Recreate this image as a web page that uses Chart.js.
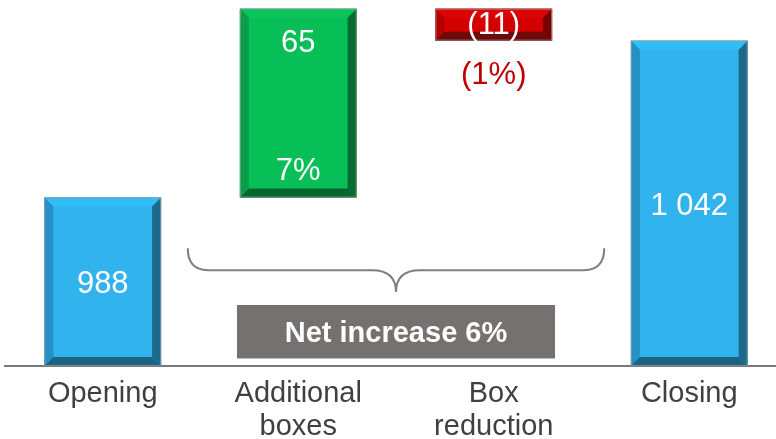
<!DOCTYPE html>
<html>
<head>
<meta charset="utf-8">
<script src="https://cdn.jsdelivr.net/npm/chart.js@4/dist/chart.umd.min.js"></script>
<style>
  html, body { margin: 0; padding: 0; background: #ffffff; overflow: hidden; }
  #wrap { position: relative; width: 792px; height: 439px; }
</style>
</head>
<body>
<div id="wrap"><canvas id="c"></canvas></div>
<script>
// Box count bridge: opening stock, movements, closing stock
const categories = [['Opening'], ['Additional', 'boxes'], ['Box', 'reduction'], ['Closing']];
const stepValues = [988, 65, -11, 1042];          // opening, +added, -removed, closing
const stepKinds = ['total', 'delta', 'delta', 'total'];
const valueLabels = ['988', '65', '(11)', '1 042'];
const pctLabels = ['', '7%', '(1%)', ''];
const netLabel = 'Net increase 6%';
const axisFloor = 930;   // value axis starts here (broken axis)
const axisCeil = 1056;

// floating bar ranges built from the step values
const ranges = [];
let running = 0;
stepValues.forEach((v, i) => {
  if (stepKinds[i] === 'total') {
    ranges.push([axisFloor, v]);
    running = v;
  } else {
    const next = running + v;
    ranges.push([Math.min(running, next), Math.max(running, next)]);
    running = next;
  }
});

const palettes = {
  blue:  { face: '#31b3ee', top: '#2fbef8', left: '#2491c6', right: '#1b6a8c', bottom: '#1c6282' },
  green: { face: '#08bf57', top: '#0bc55c', left: '#06a04a', right: '#056b30', bottom: '#07652f' },
  red:   { face: '#d40000', top: '#d90606', left: '#b40000', right: '#7a0000', bottom: '#6e0a0a' }
};
const barPalette = stepKinds.map((k, i) => k === 'total' ? palettes.blue : (stepValues[i] >= 0 ? palettes.green : palettes.red));

const FONT = '"Liberation Sans", Arial, sans-serif';

// bevelled faces, value labels and the net-change brace
const bevelPlugin = {
  id: 'bevel',
  afterDatasetsDraw(chart) {
    const ctx = chart.ctx;
    const meta = chart.getDatasetMeta(0);
    const xs = chart.scales.x, ys = chart.scales.y;
    meta.data.forEach((bar, i) => {
      const p = bar.getProps(['x', 'y', 'base', 'width'], true);
      const l = p.x - p.width / 2, r = p.x + p.width / 2;
      const t = Math.min(p.y, p.base), b = Math.max(p.y, p.base);
      const bv = 9;
      const pal = barPalette[i];
      const poly = (pts, col) => {
        ctx.beginPath();
        ctx.moveTo(pts[0][0], pts[0][1]);
        for (let k = 1; k < pts.length; k++) ctx.lineTo(pts[k][0], pts[k][1]);
        ctx.closePath();
        ctx.fillStyle = col;
        ctx.fill();
      };
      ctx.save();
      ctx.fillStyle = pal.face;
      ctx.fillRect(l, t, r - l, b - t);
      poly([[l, t], [r, t], [r - bv, t + bv], [l + bv, t + bv]], pal.top);
      poly([[l, t], [l + bv, t + bv], [l + bv, b - bv], [l, b]], pal.left);
      poly([[r, t], [r, b], [r - bv, b - bv], [r - bv, t + bv]], pal.right);
      poly([[l, b], [r, b], [r - bv, b - bv], [l + bv, b - bv]], pal.bottom);
      ctx.strokeStyle = 'rgba(150,150,150,0.8)';
      ctx.lineWidth = 1;
      ctx.strokeRect(l + 0.5, t + 0.5, r - l - 1, b - t - 1);

      // labels
      ctx.font = '31px ' + FONT;
      ctx.textAlign = 'center';
      ctx.textBaseline = 'middle';
      ctx.fillStyle = '#ffffff';
      if (stepKinds[i] === 'total') {
        ctx.fillText(valueLabels[i], p.x, (t + b) / 2 + 3);
      } else if (stepValues[i] >= 0) {
        ctx.fillText(valueLabels[i], p.x, t + 35);
        ctx.fillText(pctLabels[i], p.x, b - 26);
      } else {
        ctx.fillText(valueLabels[i], p.x, (t + b) / 2 + 1);
        ctx.fillStyle = '#c00000';
        ctx.fillText(pctLabels[i], p.x, b + 35);
      }
      ctx.restore();
    });

    // curly brace spanning the two movement bars
    const L = xs.getPixelForValue(0.435), R = xs.getPixelForValue(2.565), C = xs.getPixelForValue(1.5);
    const T = ys.getPixelForValue(970.5), H = ys.getPixelForValue(963), B = ys.getPixelForValue(955.5);
    ctx.save();
    ctx.strokeStyle = '#7f7f7f';
    ctx.lineWidth = 2;
    ctx.beginPath();
    ctx.moveTo(L, T);
    ctx.quadraticCurveTo(L, H, L + 20, H);
    ctx.lineTo(C - 24, H);
    ctx.quadraticCurveTo(C, H, C, B);
    ctx.quadraticCurveTo(C, H, C + 24, H);
    ctx.lineTo(R - 20, H);
    ctx.quadraticCurveTo(R, H, R, T);
    ctx.stroke();

    // net change box
    const boxTop = ys.getPixelForValue(951), boxBot = ys.getPixelForValue(932.6);
    ctx.fillStyle = '#767171';
    ctx.fillRect(C - 159, boxTop, 318, boxBot - boxTop);
    ctx.fillStyle = '#ffffff';
    ctx.font = 'bold 29px ' + FONT;
    ctx.textAlign = 'center';
    ctx.textBaseline = 'middle';
    ctx.fillText(netLabel, C, (boxTop + boxBot) / 2 + 2);
    ctx.restore();
  }
};

new Chart(document.getElementById('c'), {
  type: 'bar',
  data: {
    labels: categories,
    datasets: [{
      data: ranges,
      backgroundColor: barPalette.map(p => p.face),
      borderWidth: 0,
      categoryPercentage: 1.0,
      barPercentage: 0.597
    }]
  },
  options: {
    responsive: true,
    maintainAspectRatio: false,
    animation: false,
    events: [],
    layout: { padding: { left: 5, right: 5, top: 0, bottom: 0 } },
    plugins: { legend: { display: false }, tooltip: { enabled: false } },
    scales: {
      x: {
        grid: { display: false, drawTicks: false },
        border: { display: true, color: '#7a7a7a', width: 2 },
        ticks: {
          color: '#404040',
          font: { family: FONT, size: 29, lineHeight: 1.14 },
          padding: 11,
          autoSkip: false,
          maxRotation: 0
        },
        afterFit(scale) { scale.height = 73; }
      },
      y: {
        display: false,
        min: axisFloor,
        max: axisCeil
      }
    }
  },
  plugins: [bevelPlugin]
});
</script>
</body>
</html>
